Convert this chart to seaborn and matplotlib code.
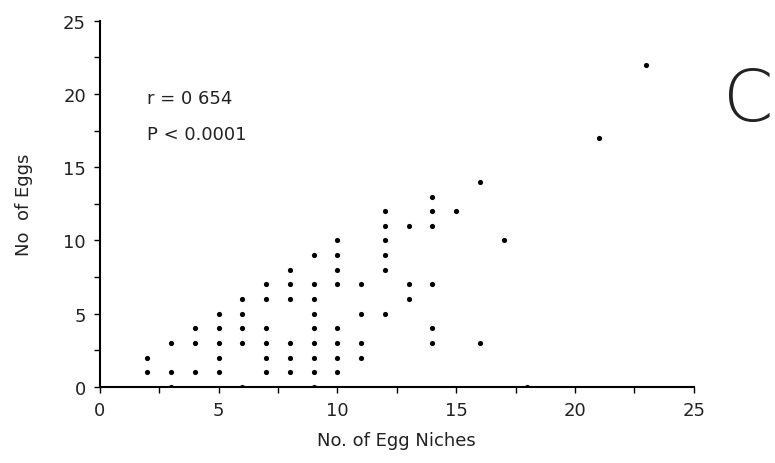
import numpy as np
import pandas as pd
import matplotlib
matplotlib.use('Agg')
import matplotlib.pyplot as plt
import seaborn as sns
from matplotlib.ticker import MultipleLocator

# values (one entry per dot)
egg_niches = [2, 2,
              3, 3, 3,
              4, 4, 4,
              5, 5, 5, 5, 5,
              6, 6, 6, 6, 6,
              7, 7, 7, 7, 7, 7,
              8, 8, 8, 8, 8, 8,
              9, 9, 9, 9, 9, 9, 9, 9, 9,
              10, 10, 10, 10, 10, 10, 10, 10,
              11, 11, 11, 11,
              12, 12, 12, 12, 12, 12,
              13, 13, 13,
              14, 14, 14, 14, 14, 14,
              15,
              16, 16,
              17,
              18,
              21,
              23]
eggs = [2, 1,
        3, 1, 0,
        4, 3, 1,
        5, 4, 3, 2, 1,
        6, 5, 4, 3, 0,
        7, 6, 4, 3, 2, 1,
        8, 7, 6, 3, 2, 1,
        9, 7, 6, 5, 4, 3, 2, 1, 0,
        10, 9, 8, 7, 4, 3, 2, 1,
        7, 5, 3, 2,
        12, 11, 10, 9, 8, 5,
        11, 7, 6,
        13, 12, 11, 7, 4, 3,
        12,
        14, 3,
        10,
        0,
        17,
        22]
stats_lines = ["r = 0 654", "P < 0.0001"]
panel_label = "C"

df = pd.DataFrame({"niches": egg_niches, "eggs": eggs})

sns.set_theme(style="ticks")
plt.rcParams['font.family'] = ['DejaVu Sans']

fig = plt.figure(figsize=(7.75, 4.64), dpi=100)
ax = fig.add_axes([0.129, 0.164, 0.766, 0.789])

sns.scatterplot(data=df, x="niches", y="eggs", ax=ax, color="black",
                s=14, linewidth=0, zorder=1)

ax.set_xlim(0, 25)
ax.set_ylim(0, 25)
ax.xaxis.set_major_locator(MultipleLocator(5))
ax.yaxis.set_major_locator(MultipleLocator(5))
ax.xaxis.set_minor_locator(MultipleLocator(2.5))
ax.yaxis.set_minor_locator(MultipleLocator(2.5))
ax.tick_params(which="both", direction="out", length=4, width=1, color="black",
               labelsize=13, labelcolor="#222222", pad=6)
sns.despine(ax=ax)
for sp in ["left", "bottom"]:
    ax.spines[sp].set_linewidth(1.5)
    ax.spines[sp].set_color("black")
    ax.spines[sp].set_zorder(3)

ax.set_xlabel("No. of Egg Niches", fontsize=13, color="#222222", labelpad=9)
ax.set_ylabel("No  of Eggs", fontsize=13, color="#222222", labelpad=22)

ax.text(2.0, 19.7, stats_lines[0], fontsize=13, color="#222222", va="center")
ax.text(2.0, 17.3, stats_lines[1], fontsize=13, color="#222222", va="center")

# big thin panel letter on the right
fig.text(0.966, 0.782, panel_label, fontsize=52, color="#222222",
         family=['DejaVu Sans'], fontweight="light",
         ha="center", va="center")

fig.savefig("out.png", dpi=100)
plt.close(fig)
